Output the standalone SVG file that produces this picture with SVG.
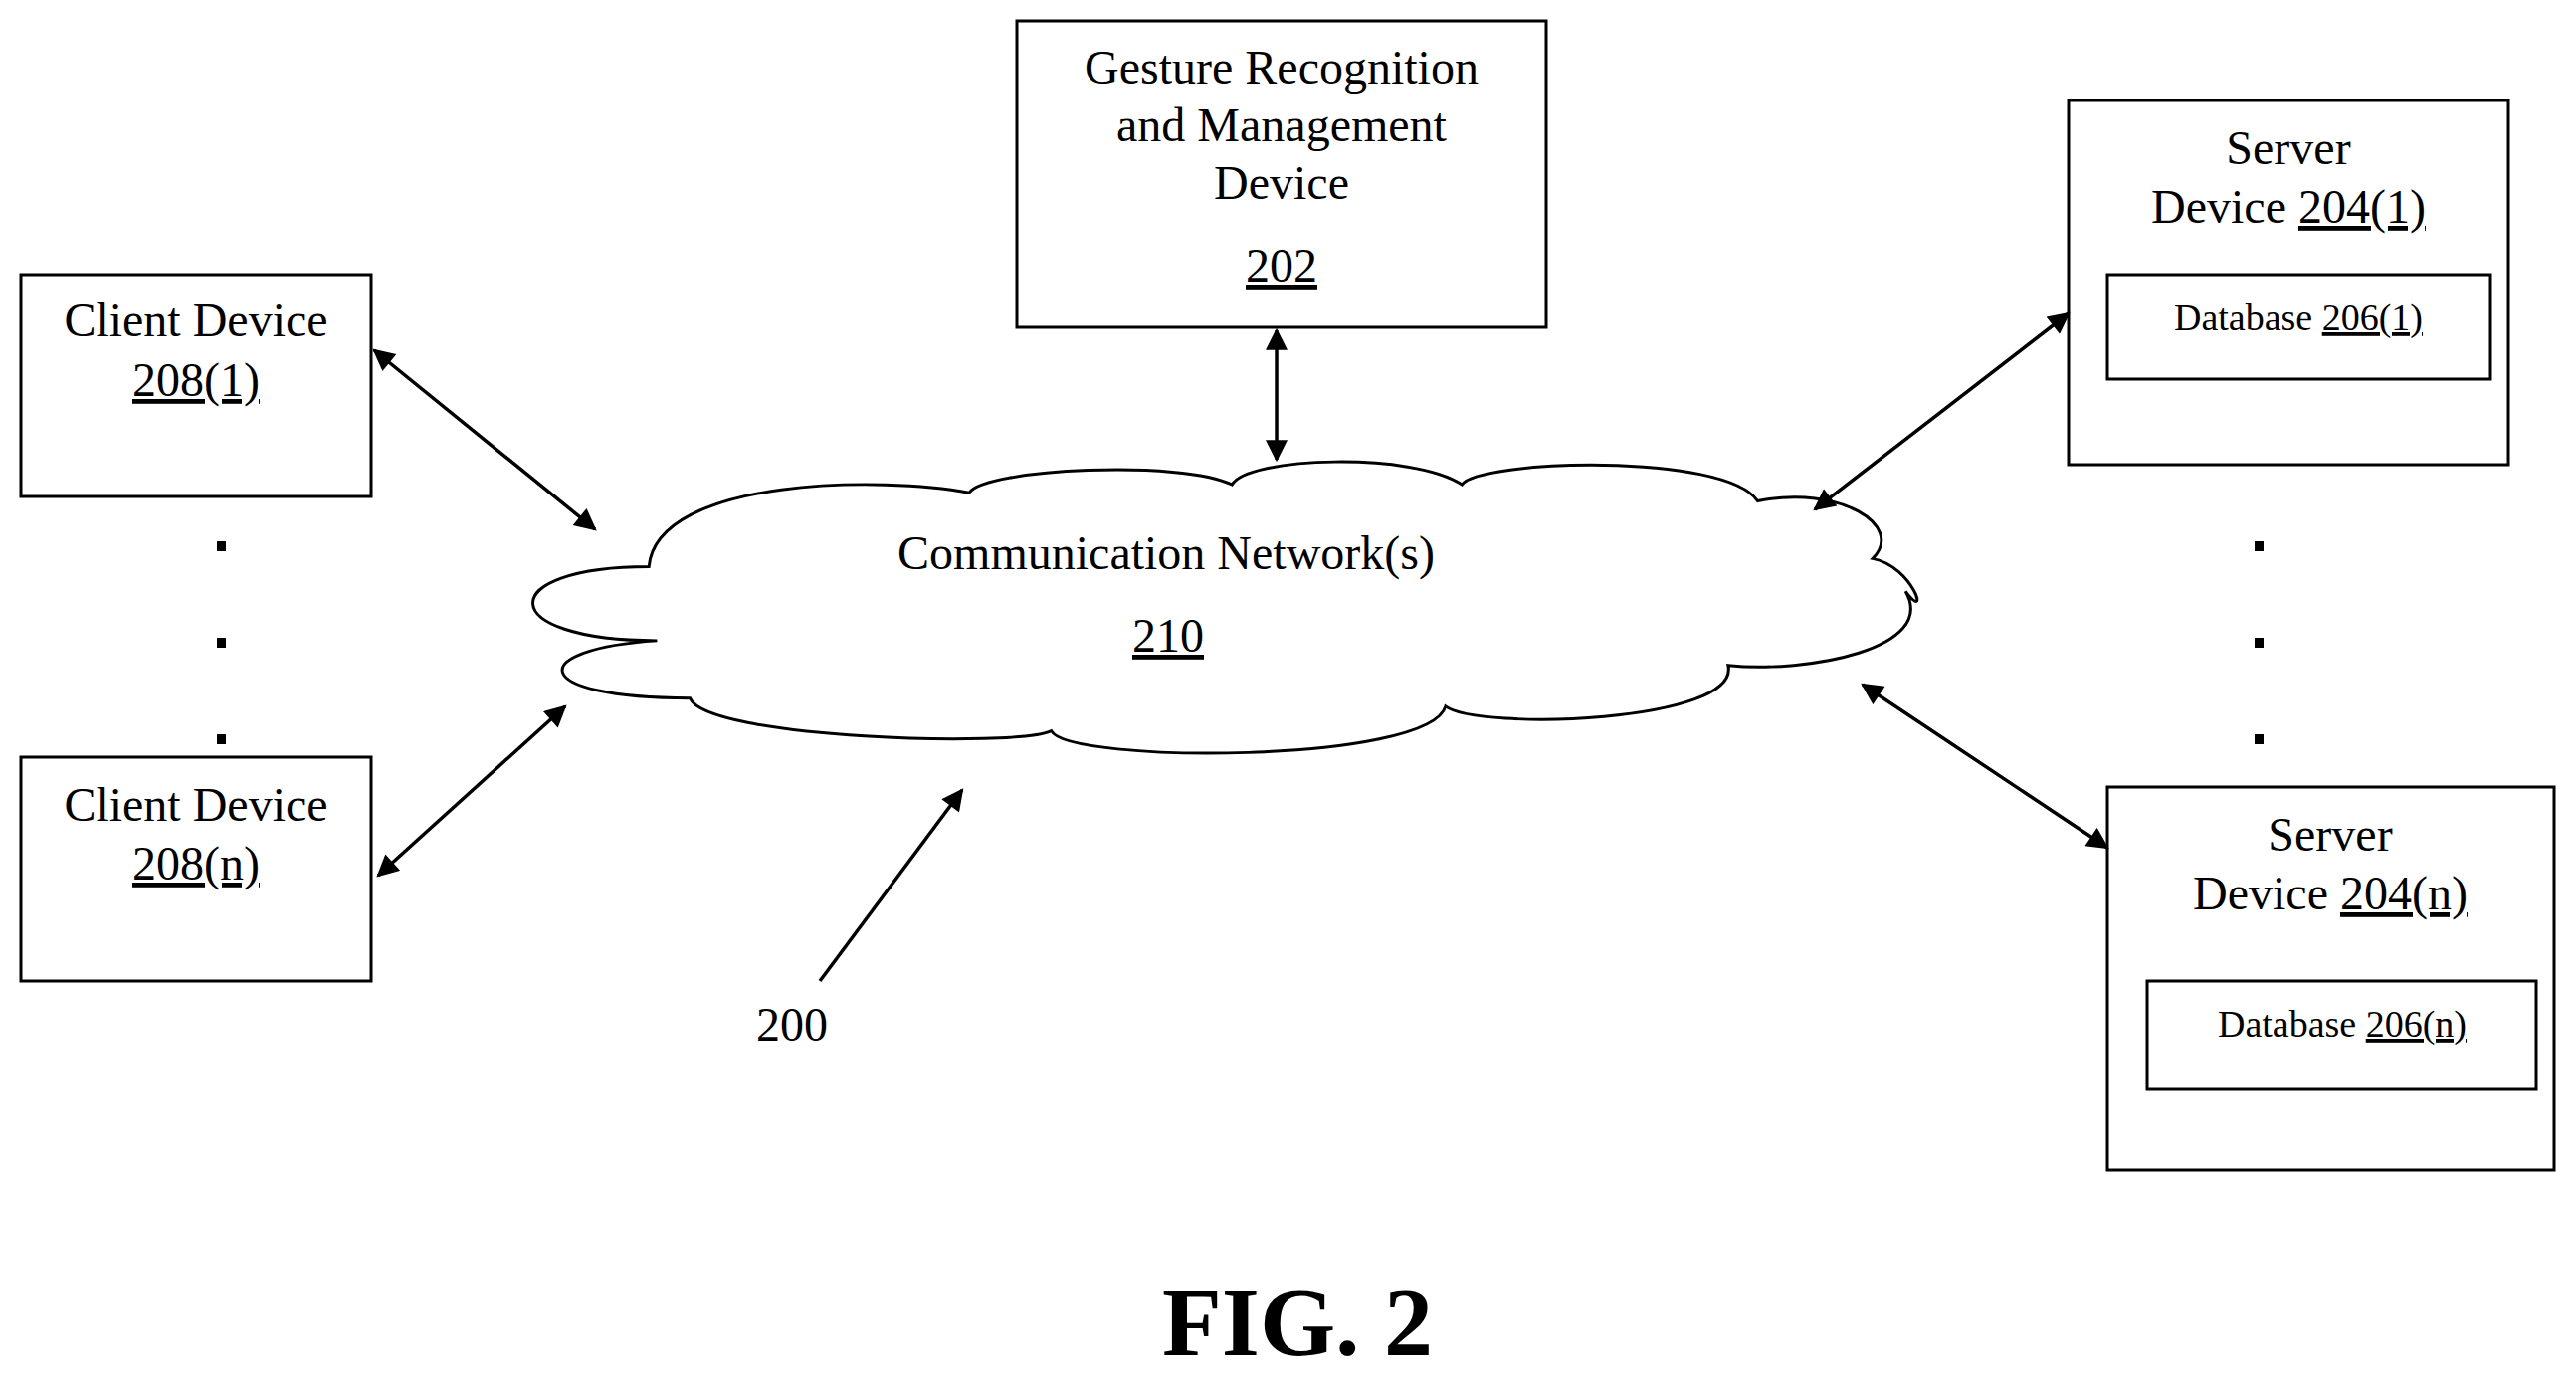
<svg xmlns="http://www.w3.org/2000/svg" width="2589" height="1390" viewBox="0 0 2589 1390">
<style>
.b{fill:none;stroke:#000;stroke-width:3}
.t{font-family:"Liberation Serif","DejaVu Serif",serif;font-size:48px;text-anchor:middle;fill:#000}
.s{font-size:38px}
.u{text-decoration:underline}
.c{stroke:#000;stroke-width:3.5;fill:none;marker-start:url(#a);marker-end:url(#a)}
.d{fill:#000}
</style>
<defs><marker id="a" viewBox="0 0 10 10" refX="9" refY="5" markerWidth="24" markerHeight="22" orient="auto-start-reverse" markerUnits="userSpaceOnUse"><path d="M0,0L10,5L0,10z"/></marker>
<marker id="h" viewBox="0 0 10 10" refX="9" refY="5" markerWidth="24" markerHeight="22" orient="auto" markerUnits="userSpaceOnUse"><path d="M0,0L10,5L0,10z"/></marker></defs>
<g id="client1"><rect class="b" x="21" y="276" width="352" height="223"/><text class="t" x="197" y="338">Client Device</text><text class="t u" x="197" y="398">208(1)</text></g>
<g id="clientn"><rect class="b" x="21" y="761" width="352" height="225"/><text class="t" x="197" y="825">Client Device</text><text class="t u" x="197" y="884">208(n)</text></g>
<g id="dotsL"><rect class="d" x="218" y="544" width="9" height="10"/><rect class="d" x="218" y="641" width="9" height="10"/><rect class="d" x="218" y="738" width="9" height="10"/></g>
<g id="dotsR"><rect class="d" x="2266" y="544" width="9" height="10"/><rect class="d" x="2266" y="641" width="9" height="10"/><rect class="d" x="2266" y="738" width="9" height="10"/></g>
<g id="gesture"><rect class="b" x="1022" y="21" width="532" height="308"/><text class="t" x="1288" y="84">Gesture Recognition</text><text class="t" x="1288" y="142">and Management</text><text class="t" x="1288" y="200">Device</text><text class="t u" x="1288" y="283">202</text></g>
<g id="server1"><rect class="b" x="2079" y="101" width="442" height="366"/><text class="t" x="2300" y="165">Server</text><text class="t" x="2300" y="224">Device <tspan class="u">204(1)</tspan></text>
<g id="db1"><rect class="b" x="2118" y="276" width="385" height="105"/><text class="t s" x="2310" y="332">Database <tspan class="u">206(1)</tspan></text></g></g>
<g id="servern"><rect class="b" x="2118" y="791" width="449" height="385"/><text class="t" x="2342" y="855">Server</text><text class="t" x="2342" y="914">Device <tspan class="u">204(n)</tspan></text>
<g id="dbn"><rect class="b" x="2158" y="986" width="391" height="109"/><text class="t s" x="2354" y="1042">Database <tspan class="u">206(n)</tspan></text></g></g>
<g id="network"><g transform="scale(1.651)"><path fill="#fff" stroke="#000" stroke-width="1.8" d="M395,345 C300,345 300,390 400,390 C320,395 320,425 420,425 C430,450 620,455 640,445 C650,465 870,465 880,430 C900,445 1060,440 1052,405 C1100,410 1180,395 1160,360 C1175,380 1165,345 1140,340 C1160,320 1120,295 1070,305 C1050,275 900,280 890,295 C860,275 760,278 750,295 C720,280 600,285 590,300 C540,290 400,290 395,345 Z"/></g>
<text class="t" x="1172" y="572">Communication Network(s)</text><text class="t u" x="1174" y="655">210</text></g>
<g id="connectors">
<line class="c" x1="376" y1="352" x2="598" y2="532"/>
<line class="c" x1="380" y1="880" x2="568" y2="710"/>
<line class="c" x1="1283" y1="332" x2="1283" y2="462"/>
<line class="c" x1="2079" y1="315" x2="1824" y2="512"/>
<line class="c" x1="2118" y1="852" x2="1872" y2="688"/>
<line stroke="#000" stroke-width="3.5" x1="824" y1="986" x2="967" y2="794" marker-end="url(#h)"/>
</g>
<text class="t" x="796" y="1046">200</text>
<text x="1304" y="1362" font-family="Liberation Serif,serif" font-weight="bold" font-size="98" text-anchor="middle">FIG. 2</text>
</svg>
